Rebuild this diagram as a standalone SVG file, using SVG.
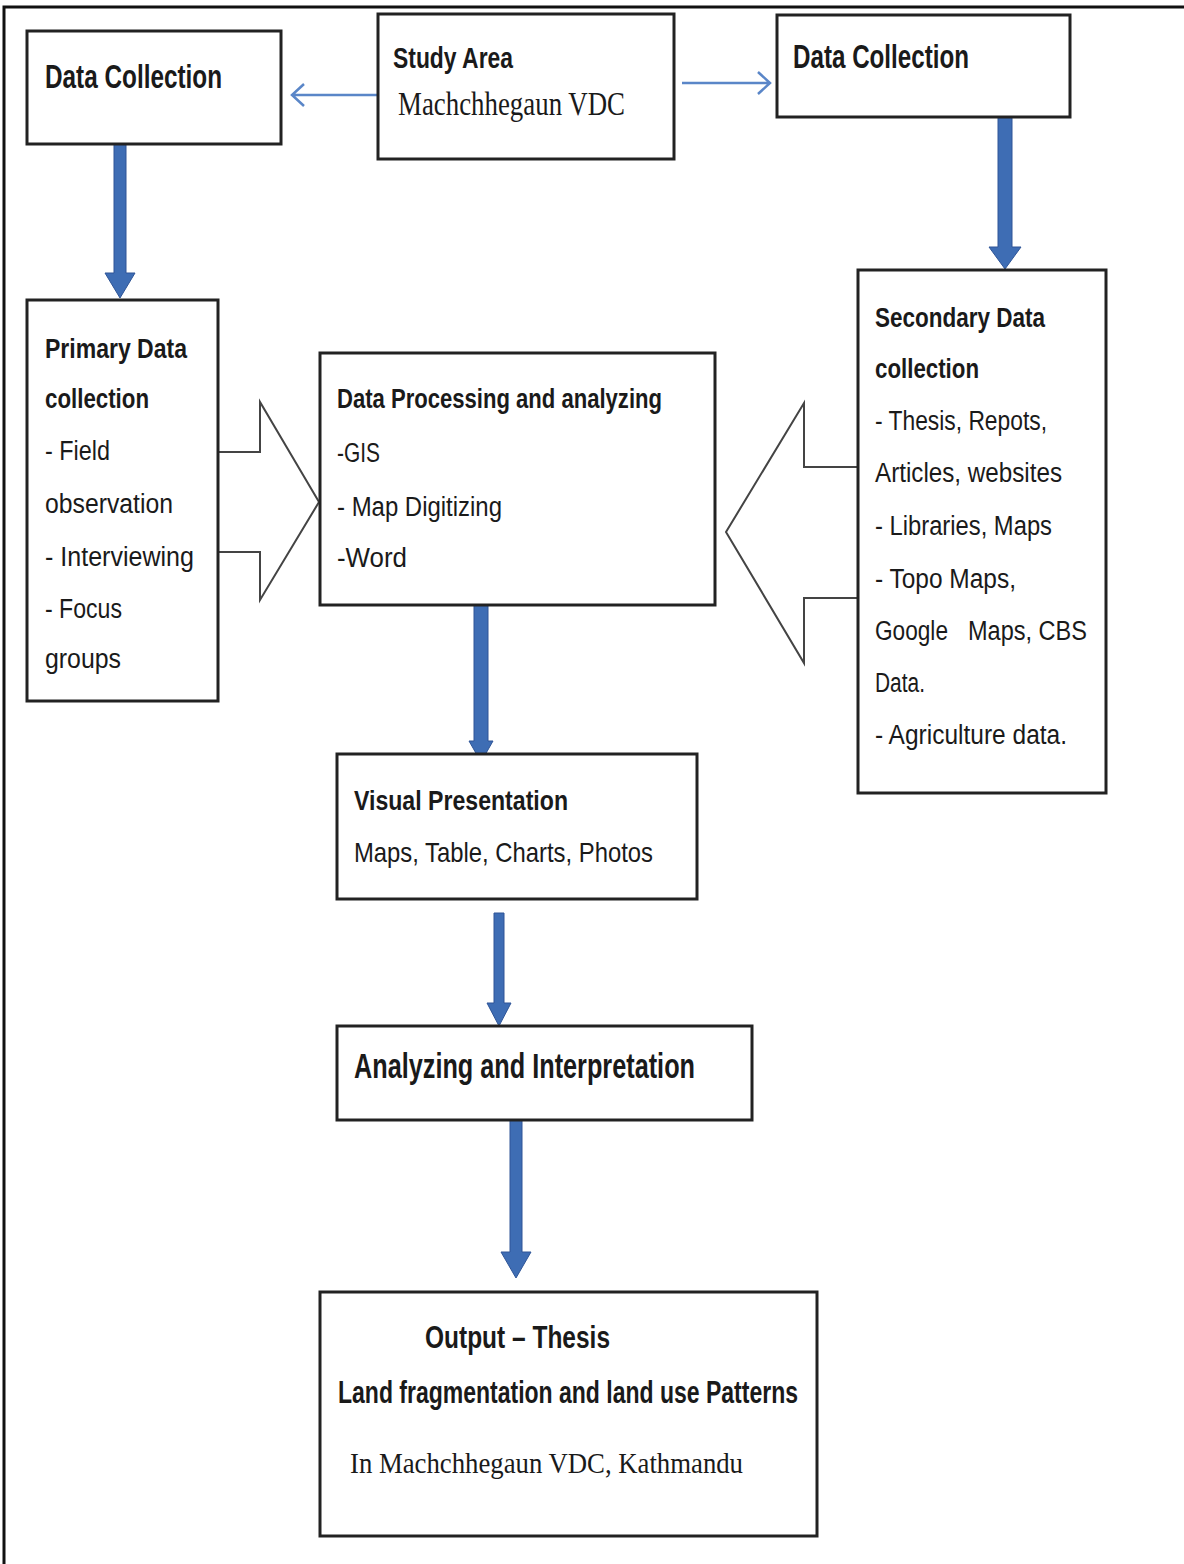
<svg xmlns="http://www.w3.org/2000/svg" width="1184" height="1564" viewBox="0 0 1184 1564">
<style>
.box{fill:#fff;stroke:#222;stroke-width:3}
.t{font-family:"Liberation Sans",Arial,sans-serif;fill:#1a1a1a}
.b{font-weight:bold}
.s{font-family:"Liberation Serif","Times New Roman",serif;fill:#1a1a1a}
.thick{fill:#3e6db4;stroke:#2f5597;stroke-width:1}
.thin{fill:none;stroke:#5a86c8;stroke-width:2.5}
.blk{fill:#fff;stroke:#444;stroke-width:2;stroke-linejoin:miter}
</style>
<rect width="1184" height="1564" fill="#fff"/>
<path d="M4,1564 V7 H1184" fill="none" stroke="#111" stroke-width="3"/>

<g id="connectors">
  <path class="blk" d="M218,452 H260 V402 L319,502 L260,600 V552 H218"/>
  <path class="blk" d="M858,467 H804 V403 L726,532 L804,663 V598 H858"/>
  <path class="thin" d="M378,95 H292 M304,84 L292,95 L304,106"/>
  <path class="thin" d="M682,83 H770 M758,72 L770,83 L758,94"/>
  <path class="thick" d="M114,144 H126 V273 H135 L120,298 L105,273 H114 Z"/>
  <path class="thick" d="M998,113 H1012 V247 H1021 L1005,269 L989,247 H998 Z"/>
  <path class="thick" d="M474,601 H488 V741 H493 L481,762 L469,741 H474 Z"/>
  <path class="thick" d="M494,913 H504 V1003 H511 L499,1026 L487,1003 H494 Z"/>
  <path class="thick" d="M510,1118 H522 V1252 H531 L516,1278 L501,1252 H510 Z"/>
</g>

<g id="data-collection-left">
  <rect class="box" x="27" y="31" width="254" height="113"/>
  <text class="t b" x="45" y="88" font-size="34" textLength="177" lengthAdjust="spacingAndGlyphs">Data Collection</text>
</g>
<g id="study-area">
  <rect class="box" x="378" y="14" width="296" height="145"/>
  <text class="t b" x="393" y="68" font-size="29" textLength="120" lengthAdjust="spacingAndGlyphs">Study Area</text>
  <text class="s" x="398" y="115" font-size="33" textLength="227" lengthAdjust="spacingAndGlyphs">Machchhegaun VDC</text>
</g>
<g id="data-collection-right">
  <rect class="box" x="777" y="15" width="293" height="102"/>
  <text class="t b" x="793" y="68" font-size="34" textLength="176" lengthAdjust="spacingAndGlyphs">Data Collection</text>
</g>
<g id="primary-data">
  <rect class="box" x="27" y="300" width="191" height="401"/>
  <text class="t b" x="45" y="358" font-size="27" textLength="142" lengthAdjust="spacingAndGlyphs">Primary Data</text>
  <text class="t b" x="45" y="408" font-size="27" textLength="104" lengthAdjust="spacingAndGlyphs">collection</text>
  <text class="t" x="45" y="460" font-size="27" textLength="65" lengthAdjust="spacingAndGlyphs">- Field</text>
  <text class="t" x="45" y="513" font-size="27" textLength="128" lengthAdjust="spacingAndGlyphs">observation</text>
  <text class="t" x="45" y="566" font-size="27" textLength="149" lengthAdjust="spacingAndGlyphs">- Interviewing</text>
  <text class="t" x="45" y="618" font-size="27" textLength="77" lengthAdjust="spacingAndGlyphs">- Focus</text>
  <text class="t" x="45" y="668" font-size="27" textLength="76" lengthAdjust="spacingAndGlyphs">groups</text>
</g>
<g id="data-processing">
  <rect class="box" x="320" y="353" width="395" height="252"/>
  <text class="t b" x="337" y="408" font-size="27" textLength="325" lengthAdjust="spacingAndGlyphs">Data Processing and analyzing</text>
  <text class="t" x="337" y="462" font-size="27" textLength="43" lengthAdjust="spacingAndGlyphs">-GIS</text>
  <text class="t" x="337" y="516" font-size="27" textLength="165" lengthAdjust="spacingAndGlyphs">- Map Digitizing</text>
  <text class="t" x="337" y="567" font-size="27" textLength="70" lengthAdjust="spacingAndGlyphs">-Word</text>
</g>
<g id="secondary-data">
  <rect class="box" x="858" y="270" width="248" height="523"/>
  <text class="t b" x="875" y="327" font-size="27" textLength="170" lengthAdjust="spacingAndGlyphs">Secondary Data</text>
  <text class="t b" x="875" y="378" font-size="27" textLength="104" lengthAdjust="spacingAndGlyphs">collection</text>
  <text class="t" x="875" y="430" font-size="27" textLength="172" lengthAdjust="spacingAndGlyphs">- Thesis, Repots,</text>
  <text class="t" x="875" y="482" font-size="27" textLength="187" lengthAdjust="spacingAndGlyphs">Articles, websites</text>
  <text class="t" x="875" y="535" font-size="27" textLength="177" lengthAdjust="spacingAndGlyphs">- Libraries, Maps</text>
  <text class="t" x="875" y="588" font-size="27" textLength="141" lengthAdjust="spacingAndGlyphs">- Topo Maps,</text>
  <text class="t" x="875" y="640" font-size="27" textLength="73" lengthAdjust="spacingAndGlyphs">Google</text>
  <text class="t" x="968" y="640" font-size="27" textLength="119" lengthAdjust="spacingAndGlyphs">Maps, CBS</text>
  <text class="t" x="875" y="692" font-size="27" textLength="50" lengthAdjust="spacingAndGlyphs">Data.</text>
  <text class="t" x="875" y="744" font-size="27" textLength="192" lengthAdjust="spacingAndGlyphs">- Agriculture data.</text>
</g>
<g id="visual-presentation">
  <rect class="box" x="337" y="754" width="360" height="145"/>
  <text class="t b" x="354" y="810" font-size="28" textLength="214" lengthAdjust="spacingAndGlyphs">Visual Presentation</text>
  <text class="t" x="354" y="862" font-size="28" textLength="299" lengthAdjust="spacingAndGlyphs">Maps, Table, Charts, Photos</text>
</g>
<g id="analyzing">
  <rect class="box" x="337" y="1026" width="415" height="94"/>
  <text class="t b" x="354" y="1078" font-size="35" textLength="341" lengthAdjust="spacingAndGlyphs">Analyzing and Interpretation</text>
</g>
<g id="output">
  <rect class="box" x="320" y="1292" width="497" height="244"/>
  <text class="t b" x="425" y="1348" font-size="32" textLength="185" lengthAdjust="spacingAndGlyphs">Output – Thesis</text>
  <text class="t b" x="338" y="1403" font-size="31" textLength="460" lengthAdjust="spacingAndGlyphs">Land fragmentation and land use Patterns</text>
  <text class="s" x="350" y="1473" font-size="30" textLength="393" lengthAdjust="spacingAndGlyphs">In Machchhegaun VDC, Kathmandu</text>
</g>
</svg>
